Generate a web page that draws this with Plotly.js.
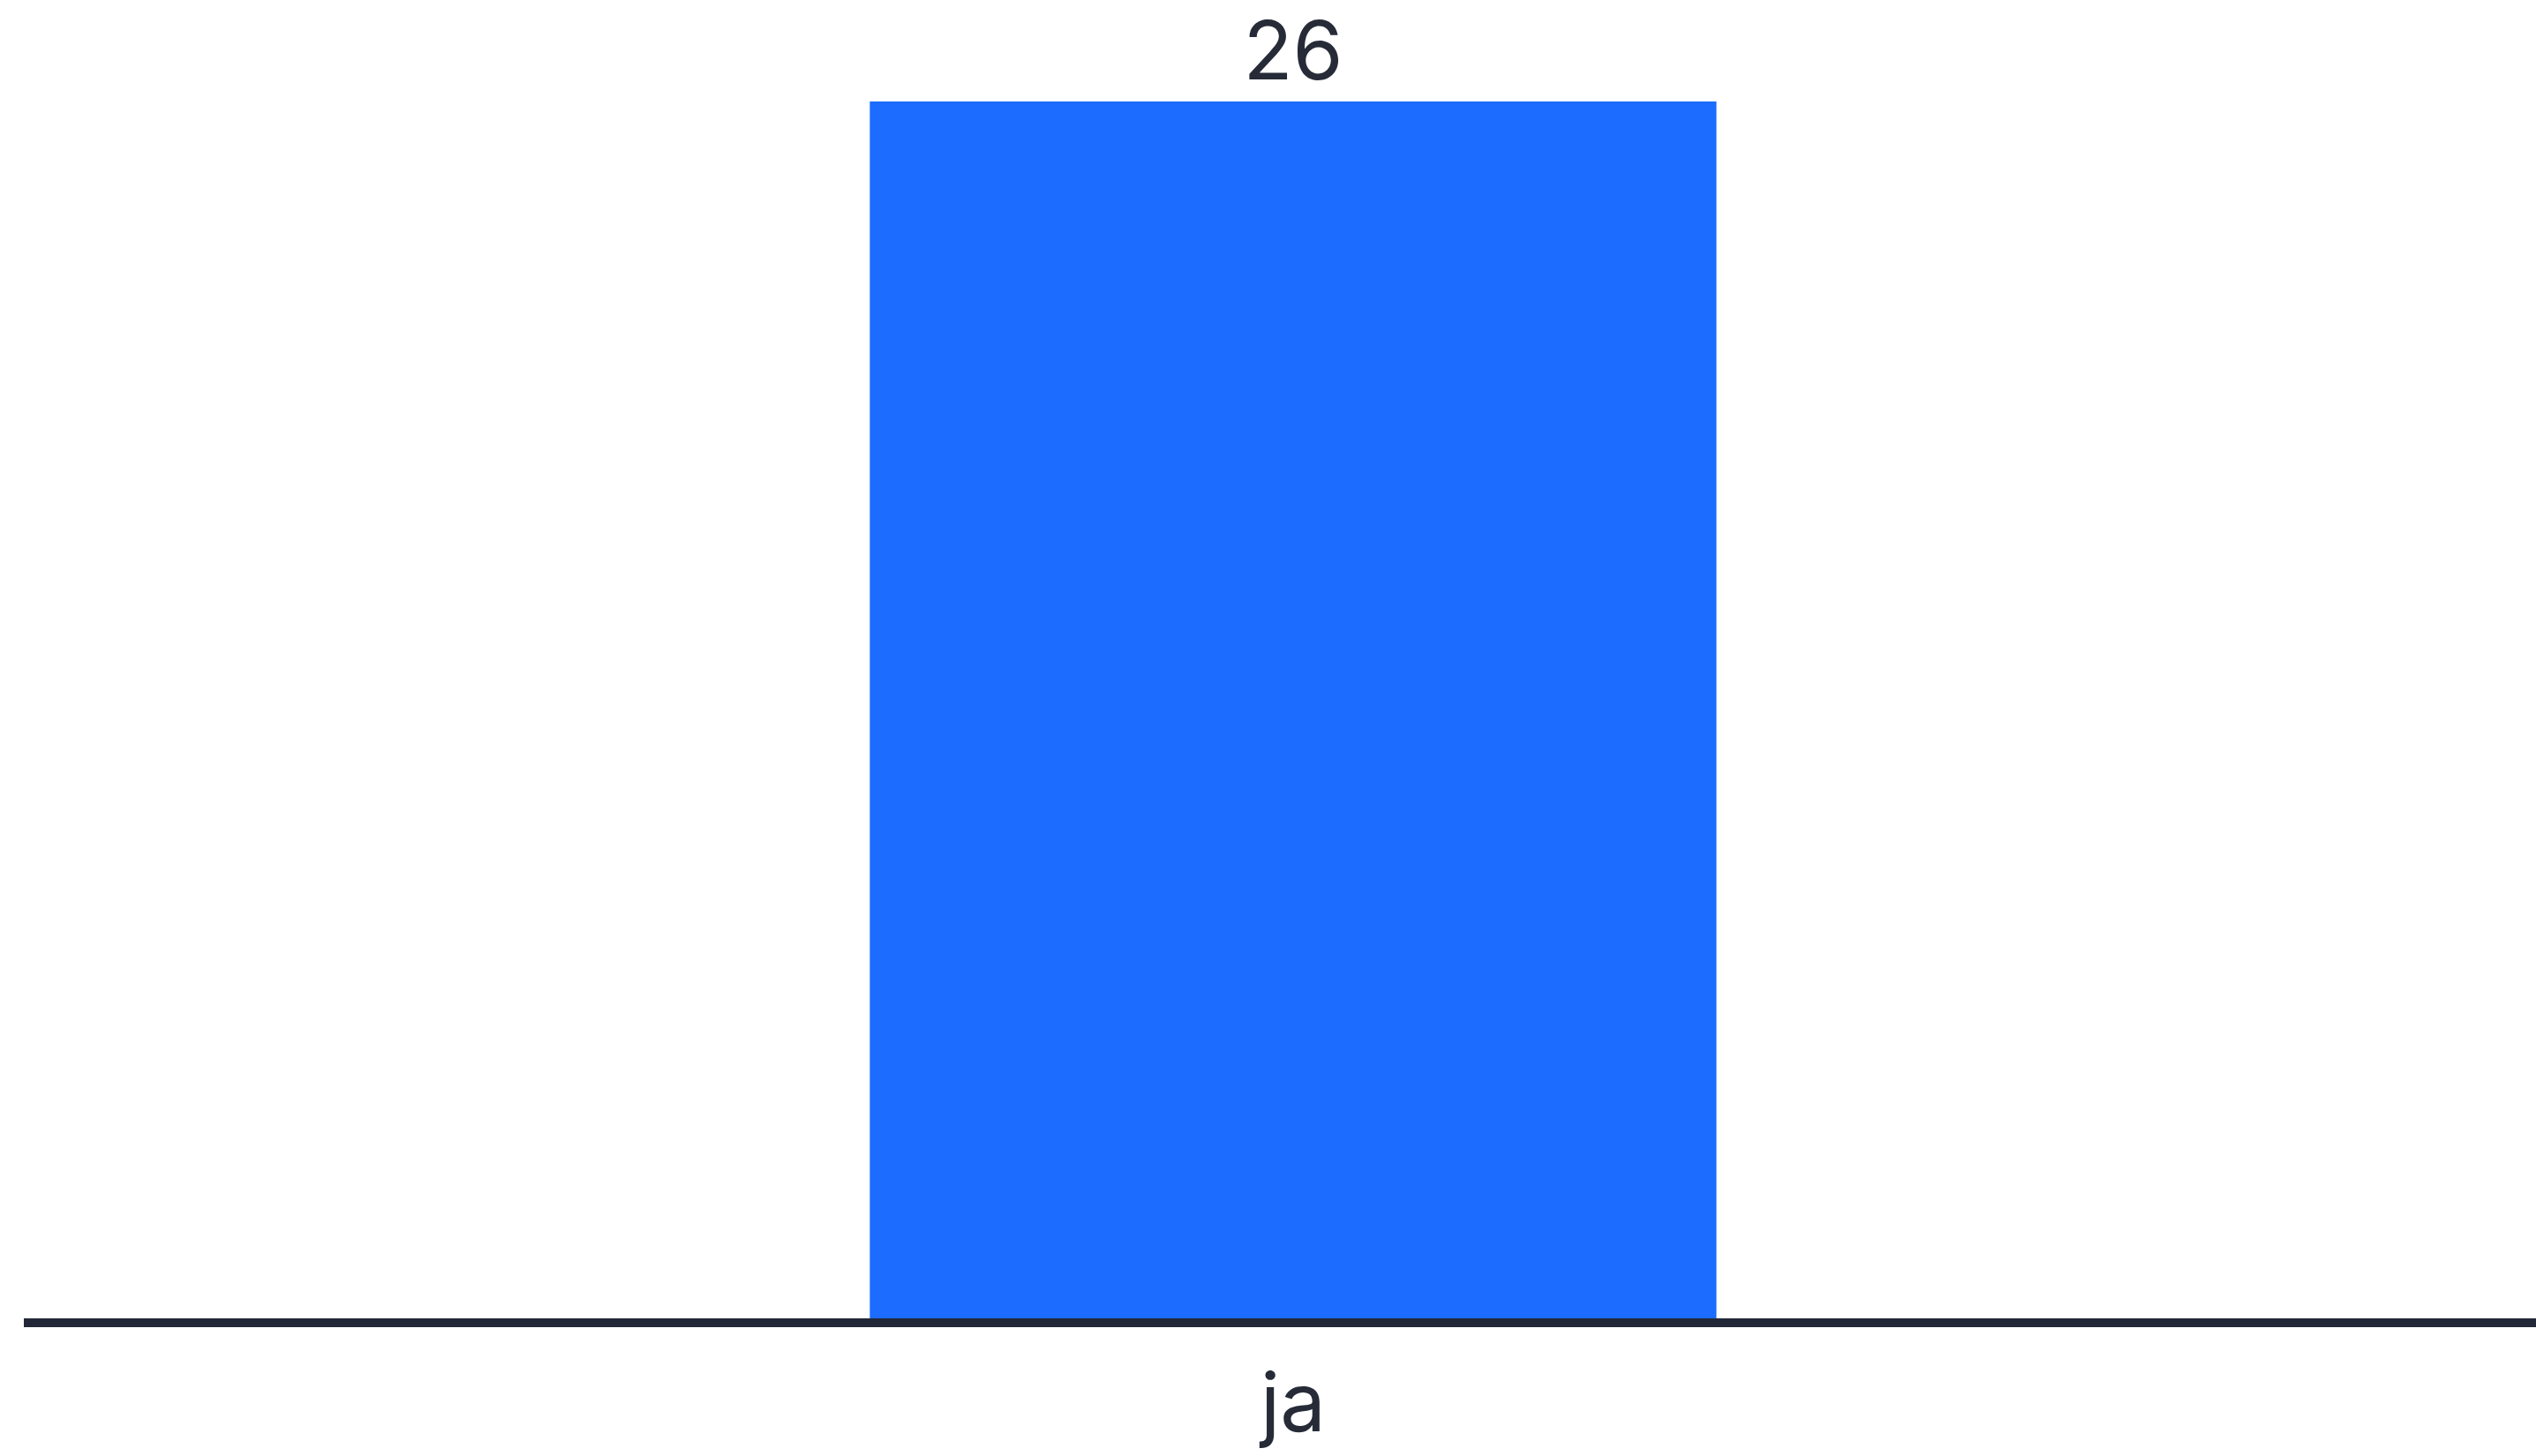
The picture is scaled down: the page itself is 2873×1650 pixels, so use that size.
<!DOCTYPE html>
<html>
<head>
<meta charset="utf-8">
<script src="https://cdn.plot.ly/plotly-3.0.1.min.js"></script>
<style>
  html, body { margin: 0; padding: 0; background: #ffffff; }
  #chart { width: 2873px; height: 1650px; }
</style>
</head>
<body>
<div id="chart"></div>
<script>
const categories = ["ja"];
const values = [26];
const valueLabels = ["26"];

const labelFont = { family: "Inter, Lato, sans-serif", size: 92, color: "#262b37" };

const trace = {
  type: "bar",
  x: categories,
  y: values,
  text: valueLabels,
  textposition: "outside",
  cliponaxis: false,
  width: 0.3335,
  marker: { color: "#1b6cff", line: { width: 0 } },
  textfont: labelFont,
  hoverinfo: "none"
};

const layout = {
  width: 2873,
  height: 1650,
  margin: { l: 27, r: 0, t: 0, b: 156, pad: 0 },
  paper_bgcolor: "#ffffff",
  plot_bgcolor: "#ffffff",
  showlegend: false,
  xaxis: {
    type: "category",
    range: [-0.5, 0.4896],
    showline: true,
    linecolor: "#232838",
    linewidth: 10,
    showgrid: false,
    zeroline: false,
    ticks: "",
    ticklabelstandoff: 8,
    tickfont: labelFont,
    fixedrange: true
  },
  yaxis: {
    range: [0, 28.17],
    showline: false,
    showgrid: false,
    zeroline: false,
    showticklabels: false,
    ticks: "",
    fixedrange: true
  }
};

Plotly.newPlot("chart", [trace], layout, { displayModeBar: false, staticPlot: true });
</script>
</body>
</html>
